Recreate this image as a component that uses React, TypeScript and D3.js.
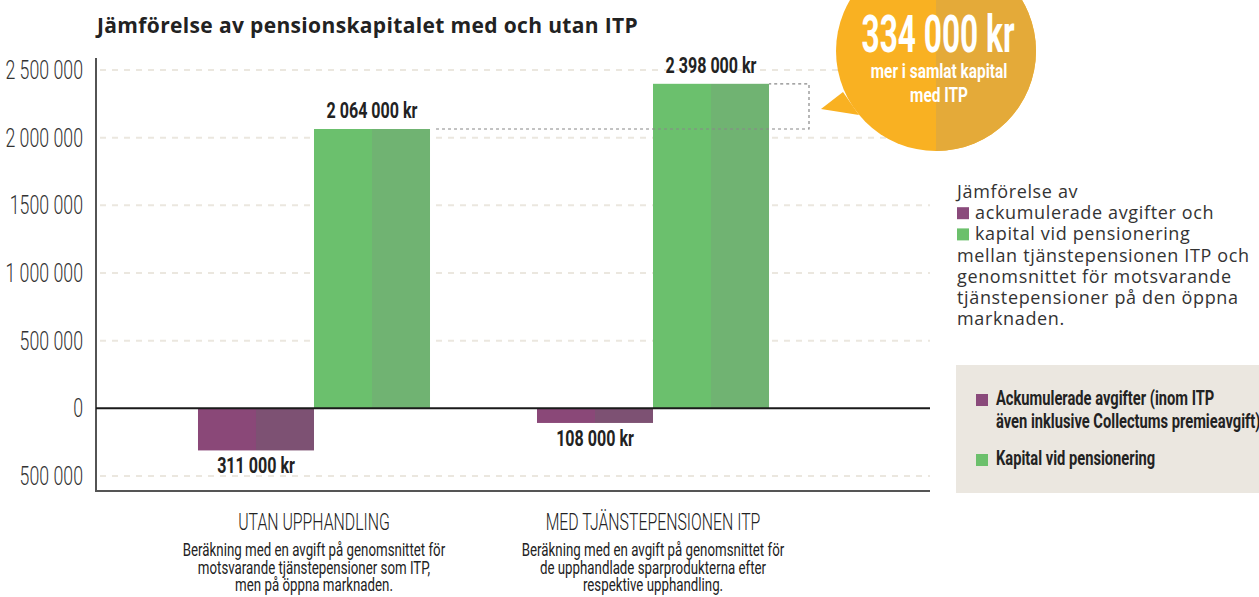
import React from "react";
import * as d3 from "d3";

const groups = ["UTAN UPPHANDLING", "MED TJÄNSTEPENSIONEN ITP"];
const groupNotes = [
  ["Beräkning med en avgift på genomsnittet för", "motsvarande tjänstepensioner som ITP,", "men på öppna marknaden."],
  ["Beräkning med en avgift på genomsnittet för", "de upphandlade sparprodukterna efter", "respektive upphandling."],
];
const series = ["avgifter", "kapital"];
const feeValues = [-311000, -108000];
const capitalValues = [2064000, 2398000];
const valueLabels = [["311 000 kr", "2 064 000 kr"], ["108 000 kr", "2 398 000 kr"]];
const yTicks = [-500000, 0, 500000, 1000000, 1500000, 2000000, 2500000];
const yTickLabels = ["500 000", "0", "500 000", "1 000 000", "1500 000", "2 000 000", "2 500 000"];
const bubbleLines = ["334 000 kr", "mer i samlat kapital", "med ITP"];
const introLines = ["Jämförelse av", "ackumulerade avgifter och", "kapital vid pensionering", "mellan tjänstepensionen ITP och", "genomsnittet för motsvarande", "tjänstepensioner på den öppna", "marknaden."];
const legendItems = [["Ackumulerade avgifter (inom ITP", "även inklusive Collectums premieavgift)"], ["Kapital vid pensionering"]];

const COLORS = {
  avgifter: ["#8a4878", "#7d5173"],
  kapital: ["#6bc06d", "#70b372"],
};
const NARROW = "Roboto, 'Liberation Sans', sans-serif";
const SANS = "'Open Sans', 'Noto Sans', sans-serif";

type NProps = {
  x: number; y: number; size: number; weight?: number; anchor?: string; sx?: number; fill?: string; children: React.ReactNode;
};
function N({ x, y, size, weight = 400, anchor = "start", sx = 0.7, fill = "#222", children }: NProps) {
  return (
    <text
      transform={`translate(${x},${y}) scale(${sx},1)`}
      textAnchor={anchor as any}
      fontFamily={NARROW}
      fontWeight={weight}
      fontSize={size}
      fill={fill}
    >
      {children}
    </text>
  );
}

export default function App() {
  const W = 1259, H = 597;
  const left = 96, right = 930;
  const y = d3.scaleLinear().domain([-500000, 2500000]).range([476, 70]);
  const x0 = d3.scaleBand<string>().domain(groups).range([91, 876]).paddingInner(0.3156).paddingOuter(0.3156);
  const x1 = d3.scaleBand<string>().domain(series).range([0, x0.bandwidth()]).padding(0);
  const bw = x1.bandwidth();
  const vals = groups.map((g, i) => ({ g, fee: feeValues[i], cap: capitalValues[i] }));

  const bubbleCx = 936, bubbleCy = 51, bubbleR = 100;
  const cap0Top = y(capitalValues[0]);
  const cap1Top = y(capitalValues[1]);
  const cap0Right = (x0(groups[0]) as number) + (x1("kapital") as number) + bw;
  const cap1Right = (x0(groups[1]) as number) + (x1("kapital") as number) + bw;
  const boxRight = 809;

  return (
    <svg width={W} height={H} style={{ position: "absolute", left: 0, top: 0, background: "#fff" }}>
      <defs>
        <clipPath id="rightHalf">
          <rect x={bubbleCx} y={-60} width={200} height={260} />
        </clipPath>
      </defs>
      {/* title */}
      <text x={97} y={33} fontFamily={SANS} fontWeight={700} fontSize={21} fill="#222" letterSpacing={0.35}>
        Jämförelse av pensionskapitalet med och utan ITP
      </text>

      {/* gridlines */}
      {yTicks.filter((t) => t !== 0).map((t) => (
        <line key={t} x1={100} x2={right} y1={y(t)} y2={y(t)} stroke="#ebe7df" strokeWidth={2} strokeDasharray="6,6" />
      ))}
      {/* y tick labels */}
      {yTicks.map((t, i) => (
        <N key={t} x={83} y={y(t) + 9} anchor="end" size={25} weight={300} sx={0.71} fill="#333">
          {yTickLabels[i]}
        </N>
      ))}

      {/* bars */}
      {vals.map((v, gi) => {
        const gx = x0(v.g) as number;
        return (
          <g key={v.g} transform={`translate(${gx},0)`}>
            {series.map((s) => {
              const val = s === "avgifter" ? v.fee : v.cap;
              const yTop = y(Math.max(0, val));
              const h = Math.abs(y(val) - y(0));
              const bx = x1(s) as number;
              const c = COLORS[s as "avgifter" | "kapital"];
              return (
                <g key={s}>
                  <rect x={bx} y={yTop} width={bw / 2} height={h} fill={c[0]} />
                  <rect x={bx + bw / 2} y={yTop} width={bw / 2} height={h} fill={c[1]} />
                  <N
                    x={bx + bw / 2}
                    y={val < 0 ? y(val) + 23 : y(val) - 11}
                    anchor="middle"
                    weight={700}
                    size={22}
                    sx={0.73}
                  >
                    {valueLabels[gi][s === "avgifter" ? 0 : 1]}
                  </N>
                </g>
              );
            })}
          </g>
        );
      })}

      {/* axes */}
      <line x1={left} x2={right} y1={y(0)} y2={y(0)} stroke="#1a1a1a" strokeWidth={2} />
      <line x1={left} x2={left} y1={58} y2={491} stroke="#1a1a1a" strokeWidth={1.5} />
      <line x1={left - 1} x2={right} y1={491} y2={491} stroke="#555" strokeWidth={2} />

      {/* comparison dashed box */}
      <path
        d={`M${cap0Right + 6},${cap0Top} H${boxRight} V${cap1Top} H${cap1Right}`}
        fill="none"
        stroke="#888"
        strokeWidth={1.2}
        strokeDasharray="3,3"
      />

      {/* bubble */}
      <g>
        <path d={`M${bubbleCx - 93},${bubbleCy + 41} L821,109 L${bubbleCx - 77},${bubbleCy + 64} Z`} fill="#f9b122" />
        <circle cx={bubbleCx} cy={bubbleCy} r={bubbleR} fill="#f9b122" />
        <circle cx={bubbleCx} cy={bubbleCy} r={bubbleR} fill="#e4aa39" clipPath="url(#rightHalf)" />
        <N x={938} y={52} anchor="middle" weight={700} size={51} sx={0.62} fill="#fff">{bubbleLines[0]}</N>
        <N x={939} y={78} anchor="middle" weight={700} size={20} sx={0.77} fill="#fff">{bubbleLines[1]}</N>
        <N x={939} y={102} anchor="middle" weight={700} size={20} sx={0.77} fill="#fff">{bubbleLines[2]}</N>
      </g>

      {/* intro text */}
      {introLines.map((l, i) => {
        const hasSq = i === 1 || i === 2;
        return (
          <g key={i}>
            {hasSq && <rect x={957} y={198 + i * 21.2 - 12} width={12} height={12} fill={i === 1 ? "#8a4a7b" : "#6cc06c"} />}
            <text x={hasSq ? 975 : 957} y={198 + i * 21.2} fontFamily={SANS} fontSize={18} fill="#333" letterSpacing={0.65}>
              {l}
            </text>
          </g>
        );
      })}

      {/* legend box */}
      <rect x={956} y={365} width={310} height={128} fill="#ebe7e0" />
      <rect x={976} y={394} width={12} height={12} fill="#8a4a7b" />
      <N x={996} y={405} weight={700} size={21} sx={0.7}>{legendItems[0][0]}</N>
      <N x={996} y={428} weight={700} size={21} sx={0.7}>{legendItems[0][1]}</N>
      <rect x={976} y={454} width={12} height={12} fill="#6cc06c" />
      <N x={996} y={465} weight={700} size={21} sx={0.7}>{legendItems[1][0]}</N>

      {/* category labels */}
      {groups.map((g, i) => {
        const cx = (x0(g) as number) + x0.bandwidth() / 2;
        return (
          <g key={g}>
            <N x={cx} y={530} anchor="middle" size={24} weight={300} sx={0.66}>{g}</N>
            {groupNotes[i].map((n, j) => (
              <N key={j} x={cx} y={556 + j * 17.5} anchor="middle" size={17.5} sx={0.76}>{n}</N>
            ))}
          </g>
        );
      })}
    </svg>
  );
}
